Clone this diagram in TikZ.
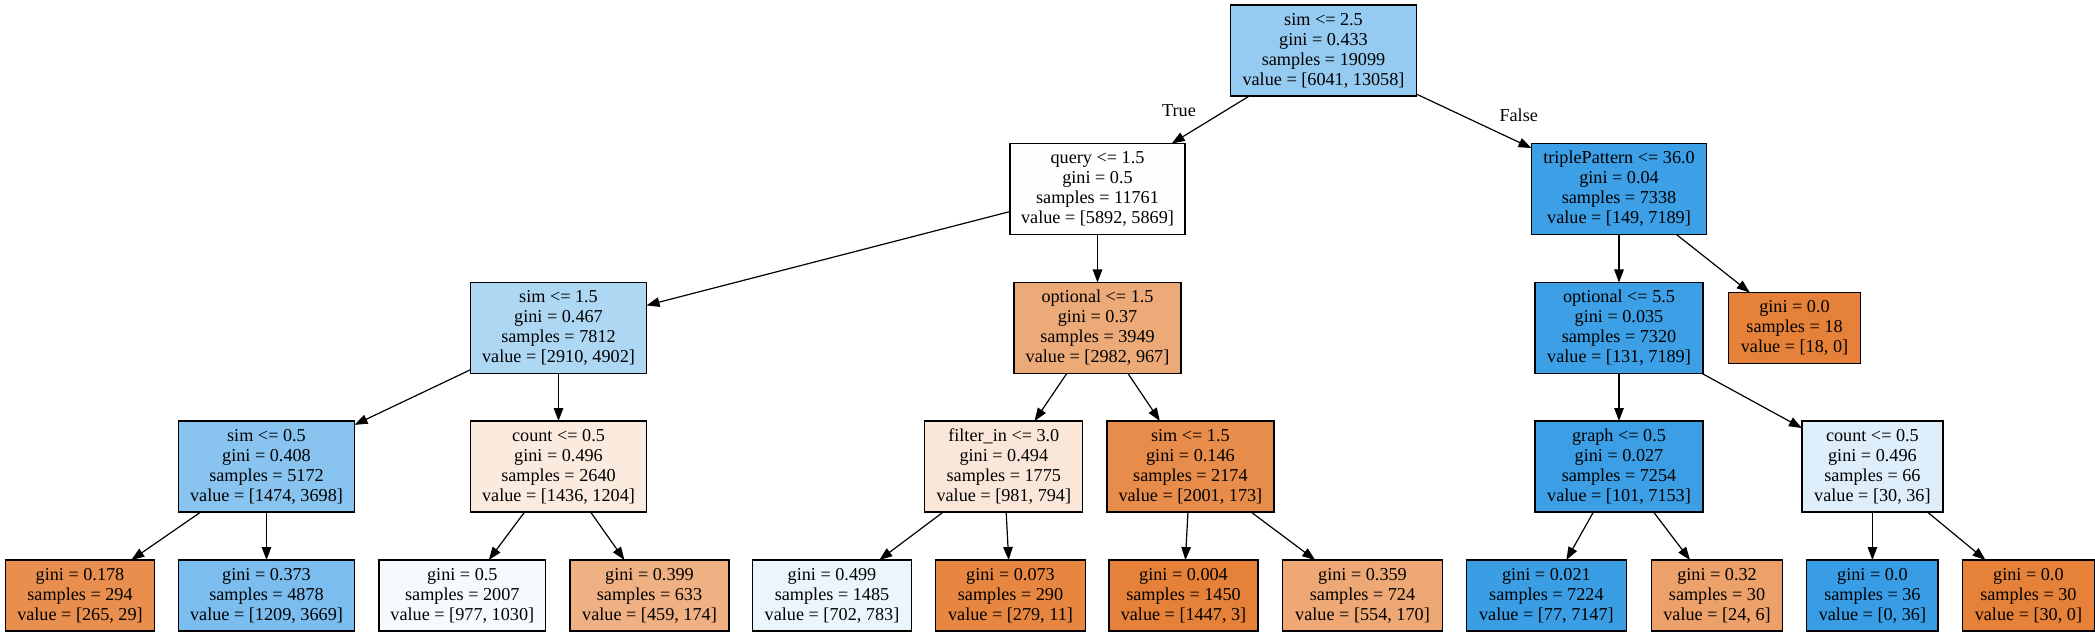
\documentclass[tikz,border=0pt]{standalone}
\usepackage{fontspec}
\setmainfont{Liberation Serif}
\usetikzlibrary{arrows.meta}
\definecolor{cRoot}{RGB}{149,202,241}
\definecolor{cQuery}{RGB}{255,254,254}
\definecolor{cTriple}{RGB}{61,159,230}
\definecolor{cSimA}{RGB}{174,215,244}
\definecolor{cOptA}{RGB}{237,170,121}
\definecolor{cOptB}{RGB}{61,159,229}
\definecolor{cOrange}{RGB}{229,129,57}
\definecolor{cBlue}{RGB}{57,157,229}
\definecolor{cSimB}{RGB}{136,196,239}
\definecolor{cCountA}{RGB}{251,235,223}
\definecolor{cFilt}{RGB}{250,231,217}
\definecolor{cSimC}{RGB}{231,140,74}
\definecolor{cGraph}{RGB}{60,158,229}
\definecolor{cCountB}{RGB}{222,239,251}
\definecolor{cLa}{RGB}{232,143,79}
\definecolor{cLb}{RGB}{122,189,238}
\definecolor{cLc}{RGB}{245,250,254}
\definecolor{cLd}{RGB}{239,177,132}
\definecolor{cLe}{RGB}{234,245,252}
\definecolor{cLf}{RGB}{230,134,65}
\definecolor{cLh}{RGB}{237,168,118}
\definecolor{cLi}{RGB}{59,158,229}
\definecolor{cLj}{RGB}{236,160,106}
\begin{document}
\begin{tikzpicture}[x=1pt,y=-1pt,
  treenode/.style={draw=black, line width=1.2pt, rectangle, inner sep=0pt, outer sep=0pt,
    align=center, font=\fontsize{18.2}{20}\selectfont},
  inner4/.style={treenode, minimum height=91pt},
  leaf3/.style={treenode, minimum height=71pt},
  edgelabel/.style={font=\fontsize{18.2}{20}\selectfont, inner sep=0pt},
  conn/.style={line width=1.2pt, -{Triangle[length=13pt,width=9.5pt]}}]
\fill[white] (0,0) rectangle (2095,636);
\useasboundingbox (0,0) rectangle (2095,636);
% rank 0
\node[inner4, fill=cRoot, minimum width=186pt] (root) at (1323.5,50.5) {sim <= 2.5\\gini = 0.433\\samples = 19099\\value = [6041, 13058]};
% rank 1
\node[inner4, fill=cQuery, minimum width=175pt] (query) at (1097.5,189) {query <= 1.5\\gini = 0.5\\samples = 11761\\value = [5892, 5869]};
\node[inner4, fill=cTriple, minimum width=175pt] (triple) at (1619,189) {triplePattern <= 36.0\\gini = 0.04\\samples = 7338\\value = [149, 7189]};
% rank 2
\node[inner4, fill=cSimA, minimum width=176pt] (simA) at (558.5,328) {sim <= 1.5\\gini = 0.467\\samples = 7812\\value = [2910, 4902]};
\node[inner4, fill=cOptA, minimum width=167pt] (optA) at (1097.5,328) {optional <= 1.5\\gini = 0.37\\samples = 3949\\value = [2982, 967]};
\node[inner4, fill=cOptB, minimum width=168pt] (optB) at (1619,328) {optional <= 5.5\\gini = 0.035\\samples = 7320\\value = [131, 7189]};
\node[leaf3, fill=cOrange, minimum width=132pt] (leafE) at (1794.5,328) {gini = 0.0\\samples = 18\\value = [18, 0]};
% rank 3
\node[inner4, fill=cSimB, minimum width=176pt] (simB) at (266.5,466.5) {sim <= 0.5\\gini = 0.408\\samples = 5172\\value = [1474, 3698]};
\node[inner4, fill=cCountA, minimum width=176pt] (countA) at (558.5,466.5) {count <= 0.5\\gini = 0.496\\samples = 2640\\value = [1436, 1204]};
\node[inner4, fill=cFilt, minimum width=158pt] (filt) at (1003.8,466.5) {filter\_in <= 3.0\\gini = 0.494\\samples = 1775\\value = [981, 794]};
\node[inner4, fill=cSimC, minimum width=167pt] (simC) at (1190.4,466.5) {sim <= 1.5\\gini = 0.146\\samples = 2174\\value = [2001, 173]};
\node[inner4, fill=cGraph, minimum width=168pt] (graph) at (1619,466.5) {graph <= 0.5\\gini = 0.027\\samples = 7254\\value = [101, 7153]};
\node[inner4, fill=cCountB, minimum width=141pt] (countB) at (1872.4,466.5) {count <= 0.5\\gini = 0.496\\samples = 66\\value = [30, 36]};
% rank 4
\node[leaf3, fill=cLa, minimum width=149pt] (l1) at (80,595.5) {gini = 0.178\\samples = 294\\value = [265, 29]};
\node[leaf3, fill=cLb, minimum width=176pt] (l2) at (266.5,595.5) {gini = 0.373\\samples = 4878\\value = [1209, 3669]};
\node[leaf3, fill=cLc, minimum width=166.5pt] (l3) at (462.3,595.5) {gini = 0.5\\samples = 2007\\value = [977, 1030]};
\node[leaf3, fill=cLd, minimum width=159pt] (l4) at (649.5,595.5) {gini = 0.399\\samples = 633\\value = [459, 174]};
\node[leaf3, fill=cLe, minimum width=158.5pt] (l5) at (832,595.5) {gini = 0.499\\samples = 1485\\value = [702, 783]};
\node[leaf3, fill=cLf, minimum width=149.6pt] (l6) at (1010.5,595.5) {gini = 0.073\\samples = 290\\value = [279, 11]};
\node[leaf3, fill=cOrange, minimum width=149pt] (l7) at (1183.5,595.5) {gini = 0.004\\samples = 1450\\value = [1447, 3]};
\node[leaf3, fill=cLh, minimum width=159.6pt] (l8) at (1362.5,595.5) {gini = 0.359\\samples = 724\\value = [554, 170]};
\node[leaf3, fill=cLi, minimum width=160pt] (l9) at (1546.4,595.5) {gini = 0.021\\samples = 7224\\value = [77, 7147]};
\node[leaf3, fill=cLj, minimum width=131.3pt] (l10) at (1717,595.5) {gini = 0.32\\samples = 30\\value = [24, 6]};
\node[leaf3, fill=cBlue, minimum width=131.3pt] (l11) at (1872.4,595.5) {gini = 0.0\\samples = 36\\value = [0, 36]};
\node[leaf3, fill=cOrange, minimum width=131.7pt] (l12) at (2028.4,595.5) {gini = 0.0\\samples = 30\\value = [30, 0]};
% edge labels
\node[edgelabel] (lblTrue) at (1179,110.7) {True};
\node[edgelabel] (lblFalse) at (1518.7,115) {False};
% connectors
\draw[conn] (root) -- (query);
\draw[conn] (root) -- (triple);
\draw[conn] (query) -- (simA);
\draw[conn] (query) -- (optA);
\draw[conn] (triple) -- (optB);
\draw[conn] (triple) -- (leafE);
\draw[conn] (simA) -- (simB);
\draw[conn] (simA) -- (countA);
\draw[conn] (optA) -- (filt);
\draw[conn] (optA) -- (simC);
\draw[conn] (optB) -- (graph);
\draw[conn] (optB) -- (countB);
\draw[conn] (simB) -- (l1);
\draw[conn] (simB) -- (l2);
\draw[conn] (countA) -- (l3);
\draw[conn] (countA) -- (l4);
\draw[conn] (filt) -- (l5);
\draw[conn] (filt) -- (l6);
\draw[conn] (simC) -- (l7);
\draw[conn] (simC) -- (l8);
\draw[conn] (graph) -- (l9);
\draw[conn] (graph) -- (l10);
\draw[conn] (countB) -- (l11);
\draw[conn] (countB) -- (l12);
\end{tikzpicture}
\end{document}
